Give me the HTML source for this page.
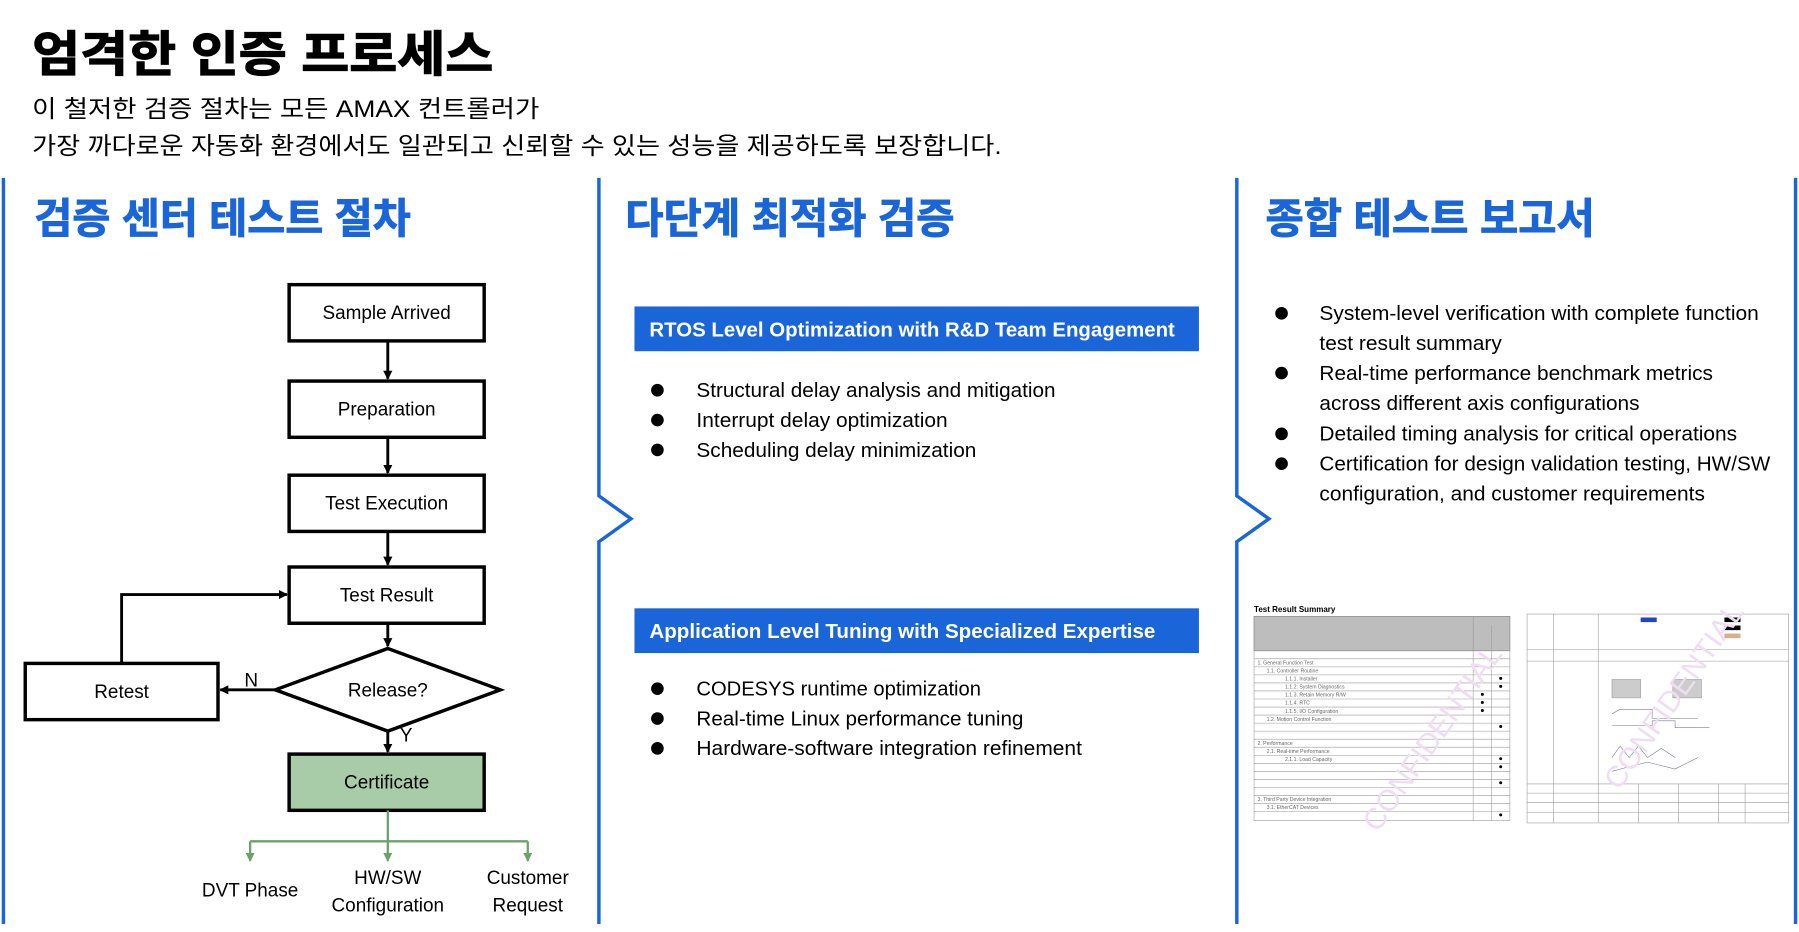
<!DOCTYPE html>
<html><head><meta charset="utf-8"><style>
html,body{margin:0;padding:0;background:#fff;overflow:hidden}
svg{display:block}
text{font-family:"Liberation Sans","Noto Sans CJK KR",sans-serif}
</style></head><body>
<svg width="1799" height="932" viewBox="0 0 1568 812" preserveAspectRatio="none" xmlns="http://www.w3.org/2000/svg">
<defs>
<marker id="ab" markerWidth="8" markerHeight="8" refX="7" refY="4" orient="auto" markerUnits="userSpaceOnUse"><path d="M0,0 L8,4 L0,8 z" fill="#000"/></marker>
<marker id="ag" markerWidth="8" markerHeight="8" refX="7" refY="4" orient="auto" markerUnits="userSpaceOnUse"><path d="M0,0 L8,4 L0,8 z" fill="#6aa36a"/></marker>
</defs>
<text x="28" y="62" font-size="42" font-weight="bold" textLength="402" lengthAdjust="spacingAndGlyphs" fill="#000" stroke="#000" stroke-width="1">엄격한 인증 프로세스</text>
<text x="28" y="102" font-size="21" textLength="442" lengthAdjust="spacingAndGlyphs" fill="#000">이 철저한 검증 절차는 모든 AMAX 컨트롤러가</text>
<text x="28" y="134" font-size="21" textLength="845" lengthAdjust="spacingAndGlyphs" fill="#000">가장 까다로운 자동화 환경에서도 일관되고 신뢰할 수 있는 성능을 제공하도록 보장합니다.</text>
<g stroke="#1a66d9" stroke-width="3" fill="none">
<line x1="3" y1="155" x2="3" y2="805"/>
<polyline points="522,155 522,432 550,452 522,472 522,805"/>
<polyline points="1078,155 1078,432 1106,452 1078,472 1078,805"/>
<line x1="1565" y1="155" x2="1565" y2="805"/>
</g>
<g fill="#1a66d9" font-weight="bold" font-size="36" stroke="#1a66d9" stroke-width="0.8">
<text x="30" y="203" textLength="328" lengthAdjust="spacingAndGlyphs">검증 센터 테스트 절차</text>
<text x="545" y="203" textLength="287" lengthAdjust="spacingAndGlyphs">다단계 최적화 검증</text>
<text x="1103" y="203" textLength="287" lengthAdjust="spacingAndGlyphs">종합 테스트 보고서</text>
</g>
<g stroke="#000" stroke-width="3" fill="#fff">
<rect x="252" y="248" width="170" height="49"/>
<rect x="252" y="332" width="170" height="49"/>
<rect x="252" y="414" width="170" height="49"/>
<rect x="252" y="494" width="170" height="49"/>
<rect x="22" y="578" width="168" height="49"/>
<polygon points="338,565 436,601 338,637 240,601"/>
<rect x="252" y="657" width="170" height="49" fill="#a8cca8"/>
</g>
<g stroke="#000" stroke-width="2.5" fill="none">
<line x1="338" y1="298" x2="338" y2="330" marker-end="url(#ab)"/>
<line x1="338" y1="382" x2="338" y2="412" marker-end="url(#ab)"/>
<line x1="338" y1="464" x2="338" y2="492" marker-end="url(#ab)"/>
<line x1="338" y1="544" x2="338" y2="563" marker-end="url(#ab)"/>
<line x1="338" y1="637" x2="338" y2="655" marker-end="url(#ab)"/>
<line x1="240" y1="601" x2="192" y2="601" marker-end="url(#ab)"/>
<polyline points="106,578 106,518 250,518" marker-end="url(#ab)"/>
</g>
<g font-size="16.5" text-anchor="middle" fill="#000">
<text x="337" y="278">Sample Arrived</text>
<text x="337" y="362">Preparation</text>
<text x="337" y="444">Test Execution</text>
<text x="337" y="524">Test Result</text>
<text x="106" y="608">Retest</text>
<text x="338" y="607">Release?</text>
<text x="337" y="687">Certificate</text>
<text x="219" y="598">N</text>
<text x="354" y="646">Y</text>
<text x="218" y="781">DVT Phase</text>
<text x="338" y="770">HW/SW</text>
<text x="338" y="794">Configuration</text>
<text x="460" y="770">Customer</text>
<text x="460" y="794">Request</text>
</g>
<g stroke="#6aa36a" stroke-width="2" fill="none">
<line x1="338" y1="706" x2="338" y2="733"/>
<line x1="218" y1="733" x2="460" y2="733"/>
<line x1="218" y1="733" x2="218" y2="750" marker-end="url(#ag)"/>
<line x1="338" y1="733" x2="338" y2="750" marker-end="url(#ag)"/>
<line x1="460" y1="733" x2="460" y2="750" marker-end="url(#ag)"/>
</g>
<rect x="553" y="267" width="492" height="39" fill="#1a66d9"/>
<rect x="553" y="530" width="492" height="39" fill="#1a66d9"/>
<g fill="#fff" font-weight="bold" font-size="18">
<text x="566" y="293" textLength="458" lengthAdjust="spacingAndGlyphs">RTOS Level Optimization with R&amp;D Team Engagement</text>
<text x="566" y="556" textLength="441" lengthAdjust="spacingAndGlyphs">Application Level Tuning with Specialized Expertise</text>
</g>
<g fill="#000">
<circle cx="573" cy="340" r="5.5"/><circle cx="573" cy="366" r="5.5"/><circle cx="573" cy="392" r="5.5"/>
<circle cx="573" cy="600" r="5.5"/><circle cx="573" cy="626" r="5.5"/><circle cx="573" cy="652" r="5.5"/>
<circle cx="1117" cy="273" r="5.5"/><circle cx="1117" cy="325" r="5.5"/><circle cx="1117" cy="378" r="5.5"/><circle cx="1117" cy="404" r="5.5"/>
</g>
<g fill="#000" font-size="18">
<text x="607" y="346" textLength="313" lengthAdjust="spacingAndGlyphs">Structural delay analysis and mitigation</text>
<text x="607" y="372" textLength="219" lengthAdjust="spacingAndGlyphs">Interrupt delay optimization</text>
<text x="607" y="398" textLength="244" lengthAdjust="spacingAndGlyphs">Scheduling delay minimization</text>
<text x="607" y="606" textLength="248" lengthAdjust="spacingAndGlyphs">CODESYS runtime optimization</text>
<text x="607" y="632" textLength="285" lengthAdjust="spacingAndGlyphs">Real-time Linux performance tuning</text>
<text x="607" y="658" textLength="336" lengthAdjust="spacingAndGlyphs">Hardware-software integration refinement</text>
<text x="1150" y="279" textLength="383" lengthAdjust="spacingAndGlyphs">System-level verification with complete function</text>
<text x="1150" y="305" textLength="159" lengthAdjust="spacingAndGlyphs">test result summary</text>
<text x="1150" y="331" textLength="343" lengthAdjust="spacingAndGlyphs">Real-time performance benchmark metrics</text>
<text x="1150" y="357" textLength="279" lengthAdjust="spacingAndGlyphs">across different axis configurations</text>
<text x="1150" y="384" textLength="364" lengthAdjust="spacingAndGlyphs">Detailed timing analysis for critical operations</text>
<text x="1150" y="410" textLength="393" lengthAdjust="spacingAndGlyphs">Certification for design validation testing, HW/SW</text>
<text x="1150" y="436" textLength="336" lengthAdjust="spacingAndGlyphs">configuration, and customer requirements</text>
</g>
<text x="1093" y="533" font-size="7" font-weight="bold" font-family="Liberation Serif,serif">Test Result Summary</text>
<rect x="1093" y="537" width="223" height="30" fill="#bdbdbd" stroke="#888" stroke-width="0.6"/>
<g stroke="#999" stroke-width="0.5">
<rect x="1093" y="537" width="223" height="178" fill="none"/>
<line x1="1284" y1="537" x2="1284" y2="715"/><line x1="1300" y1="545" x2="1300" y2="715"/>
<line x1="1093" y1="574" x2="1316" y2="574"/><line x1="1093" y1="581" x2="1316" y2="581"/><line x1="1093" y1="588" x2="1316" y2="588"/><line x1="1093" y1="595" x2="1316" y2="595"/><line x1="1093" y1="602" x2="1316" y2="602"/><line x1="1093" y1="609" x2="1316" y2="609"/><line x1="1093" y1="616" x2="1316" y2="616"/><line x1="1093" y1="623" x2="1316" y2="623"/><line x1="1093" y1="630" x2="1316" y2="630"/><line x1="1093" y1="637" x2="1316" y2="637"/><line x1="1093" y1="644" x2="1316" y2="644"/><line x1="1093" y1="651" x2="1316" y2="651"/><line x1="1093" y1="658" x2="1316" y2="658"/><line x1="1093" y1="665" x2="1316" y2="665"/><line x1="1093" y1="672" x2="1316" y2="672"/><line x1="1093" y1="679" x2="1316" y2="679"/><line x1="1093" y1="686" x2="1316" y2="686"/><line x1="1093" y1="693" x2="1316" y2="693"/><line x1="1093" y1="700" x2="1316" y2="700"/><line x1="1093" y1="707" x2="1316" y2="707"/>
</g>
<g fill="#000"><circle cx="1308" cy="591" r="1.3"/><circle cx="1308" cy="598" r="1.3"/><circle cx="1292" cy="605" r="1.3"/><circle cx="1292" cy="612" r="1.3"/><circle cx="1292" cy="619" r="1.3"/><circle cx="1308" cy="633" r="1.3"/><circle cx="1308" cy="661" r="1.3"/><circle cx="1308" cy="668" r="1.3"/><circle cx="1308" cy="682" r="1.3"/><circle cx="1308" cy="710" r="1.3"/></g>
<g fill="#666" font-size="4.5" font-family="Liberation Serif,serif"><text x="1096" y="579">1. General Function Test</text><text x="1104" y="586">1.1. Controller Routine</text><text x="1120" y="593">1.1.1. Installer</text><text x="1120" y="600">1.1.2. System Diagnostics</text><text x="1120" y="607">1.1.3. Retain Memory R/W</text><text x="1120" y="614">1.1.4. RTC</text><text x="1120" y="621">1.1.5. I/O Configuration</text><text x="1104" y="628">1.2. Motion Control Function</text><text x="1096" y="649">2. Performance</text><text x="1104" y="656">2.1. Real-time Performance</text><text x="1120" y="663">2.1.1. Load Capacity</text><text x="1096" y="698">3. Third Party Device Integration</text><text x="1104" y="705">3.1. EtherCAT Devices</text></g>
<text x="1130" y="690" font-size="26" fill="#efdcf5" transform="rotate(-55 1200 640)" font-family="Liberation Serif,serif">CONFIDENTIAL</text>
<g stroke="#999" stroke-width="0.5" fill="none">
<rect x="1331" y="535" width="228" height="182"/>
<line x1="1354" y1="535" x2="1354" y2="717"/><line x1="1393" y1="535" x2="1393" y2="717"/>
<line x1="1331" y1="566" x2="1559" y2="566"/><line x1="1331" y1="576" x2="1559" y2="576"/>
<line x1="1331" y1="683" x2="1559" y2="683"/><line x1="1331" y1="691" x2="1559" y2="691"/><line x1="1331" y1="699" x2="1559" y2="699"/><line x1="1331" y1="708" x2="1559" y2="708"/>
<line x1="1428" y1="683" x2="1428" y2="717"/><line x1="1463" y1="683" x2="1463" y2="717"/><line x1="1498" y1="683" x2="1498" y2="717"/><line x1="1521" y1="683" x2="1521" y2="717"/>
<rect x="1405" y="592" width="25" height="16" fill="#ccc"/><rect x="1458" y="592" width="25" height="16" fill="#ccc"/>
<polyline stroke="#7777aa" points="1405,622 1412,618 1440,618 1440,626 1480,626"/>
<polyline stroke="#7777aa" points="1405,632 1440,632 1440,628 1460,628 1460,634 1490,634"/>
<polyline stroke="#7777aa" points="1405,660 1412,650 1420,660 1428,650 1436,660 1448,652 1460,660"/>
<polyline stroke="#7777aa" points="1405,672 1420,668 1436,664 1460,670 1480,660"/>
</g>
<rect x="1430" y="538" width="14" height="4" fill="#2244cc"/>
<rect x="1503" y="538" width="14" height="4" fill="#000"/><rect x="1503" y="545" width="14" height="4" fill="#000"/><rect x="1503" y="552" width="14" height="4" fill="#d9b08c"/>
<text x="1370" y="690" font-size="26" fill="#efdcf5" transform="rotate(-55 1390 650)" font-family="Liberation Serif,serif">CONFIDENTIAL</text>
</svg>
</body></html>
